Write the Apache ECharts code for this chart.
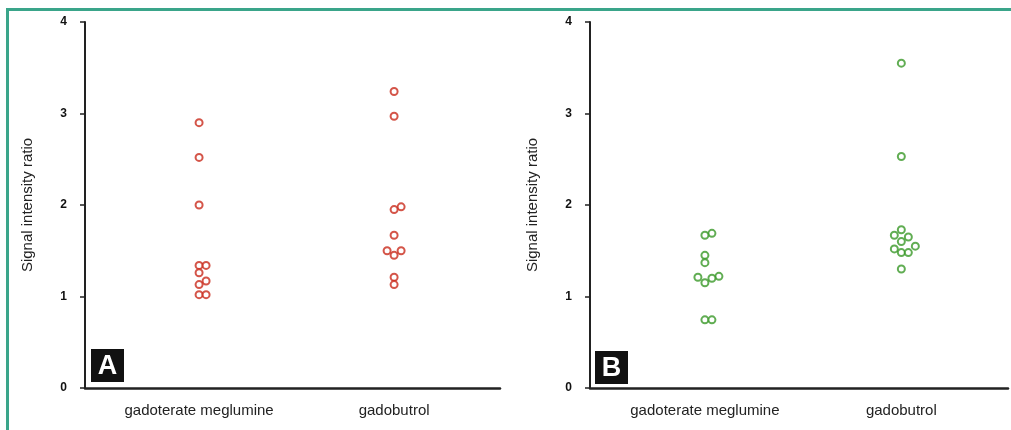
<!DOCTYPE html>
<html><head><meta charset="utf-8">
<script src="https://cdn.jsdelivr.net/npm/echarts@6/dist/echarts.min.js"></script>
<style>html,body{margin:0;padding:0;background:#fff}#c{width:1011px;height:430px}</style>
</head><body><div id="c"></div><script>
// ---- data ----
const categories = ['gadoterate meglumine', 'gadobutrol'];
const yTicks = [0, 1, 2, 3, 4];
const panelA_gadoterate = [2.9, 2.52, 2.0, 1.34, 1.34, 1.26, 1.17, 1.13, 1.02, 1.02];
const panelA_gadobutrol = [3.24, 2.97, 1.98, 1.95, 1.67, 1.5, 1.5, 1.45, 1.21, 1.13];
const panelB_gadoterate = [1.69, 1.67, 1.45, 1.37, 1.22, 1.21, 1.2, 1.15, 0.745, 0.745];
const panelB_gadobutrol = [3.55, 2.53, 1.73, 1.67, 1.65, 1.6, 1.55, 1.52, 1.48, 1.48, 1.3];
const panelLabels = ['A', 'B'];

// ---- layout / style ----
const plotH = 366, plotTop = 22;
const pxPerUnit = plotH / (yTicks[yTicks.length - 1] - yTicks[0]);
const SYM = 7;
const RED = '#c92a1c', GREEN = '#3a9828', FRAME = '#3aa58a';

// simple beeswarm dodge (pixel offsets computed from values)
function swarm(vals) {
  const idx = vals.map((v, i) => i).sort((a, b) => vals[a] - vals[b]);
  const placed = [];
  const off = new Array(vals.length).fill(0);
  idx.forEach(i => {
    const y = vals[i] * pxPerUnit;
    const cands = [0];
    for (let k = 1; k < 6; k++) { cands.push(k * SYM, -k * SYM); }
    for (const dx of cands) {
      const hit = placed.some(p => (p.x - dx) ** 2 + (p.y - y) ** 2 < (SYM * 0.95) ** 2);
      if (!hit) { off[i] = dx; placed.push({ x: dx, y }); break; }
    }
  });
  return off;
}
function items(catIdx, vals) {
  const off = swarm(vals);
  return vals.map((v, i) => ({ value: [catIdx, v], symbolOffset: [off[i], 0] }));
}

function xAxis(gi) {
  return {
    gridIndex: gi, type: 'value', min: -0.585, max: 1.543,
    axisLine: { show: true, onZero: false, lineStyle: { color: '#222', width: 2.5 } },
    axisTick: { show: false }, splitLine: { show: false },
    axisLabel: {
      customValues: [0, 1], formatter: v => categories[Math.round(v)],
      fontSize: 15, color: '#222', margin: 15, fontFamily: 'Liberation Sans, Arial, sans-serif'
    }
  };
}
function yAxis(gi) {
  return {
    gridIndex: gi, type: 'value', min: yTicks[0], max: yTicks[yTicks.length - 1], interval: 1,
    axisLine: { show: true, onZero: false, lineStyle: { color: '#222', width: 2 } },
    axisTick: { show: true, length: 5, lineStyle: { color: '#222', width: 1.5 } },
    splitLine: { show: false },
    axisLabel: { fontSize: 12, fontWeight: 'bold', color: '#111', margin: 18, fontFamily: 'Liberation Sans, Arial, sans-serif' },
    name: 'Signal intensity ratio', nameLocation: 'middle', nameGap: 50,
    nameTextStyle: { fontSize: 15, color: '#222', fontFamily: 'Liberation Sans, Arial, sans-serif' }
  };
}
function ser(gi, data, color) {
  return {
    type: 'scatter', xAxisIndex: gi, yAxisIndex: gi, data, symbol: 'circle', symbolSize: SYM,
    itemStyle: { color: '#fff', borderColor: color, borderWidth: 2 }, silent: true, animation: false
  };
}
function badge(x, y, t) {
  return {
    type: 'group', left: x, top: y, children: [
      { type: 'rect', shape: { x: 0, y: 0, width: 33, height: 33 }, style: { fill: '#111' } },
      { type: 'text', x: 16.5, y: 17.5, style: { text: t, fill: '#fff', font: 'bold 27px Liberation Sans, Arial, sans-serif', align: 'center', verticalAlign: 'middle' } }
    ]
  };
}

const chart = echarts.init(document.getElementById('c'));
chart.setOption({
  animation: false,
  grid: [
    { left: 85, top: plotTop, width: 415, height: plotH },
    { left: 590, top: plotTop, width: 418, height: plotH }
  ],
  xAxis: [xAxis(0), xAxis(1)],
  yAxis: [yAxis(0), yAxis(1)],
  series: [
    ser(0, items(0, panelA_gadoterate).concat(items(1, panelA_gadobutrol)), RED),
    ser(1, items(0, panelB_gadoterate).concat(items(1, panelB_gadobutrol)), GREEN)
  ],
  graphic: [
    { type: 'rect', shape: { x: 7.5, y: 9.5, width: 1020, height: 440 }, style: { fill: 'none', stroke: FRAME, lineWidth: 3 }, silent: true },
    badge(91, 349, panelLabels[0]),
    badge(595, 351, panelLabels[1])
  ]
});
</script></body></html>
